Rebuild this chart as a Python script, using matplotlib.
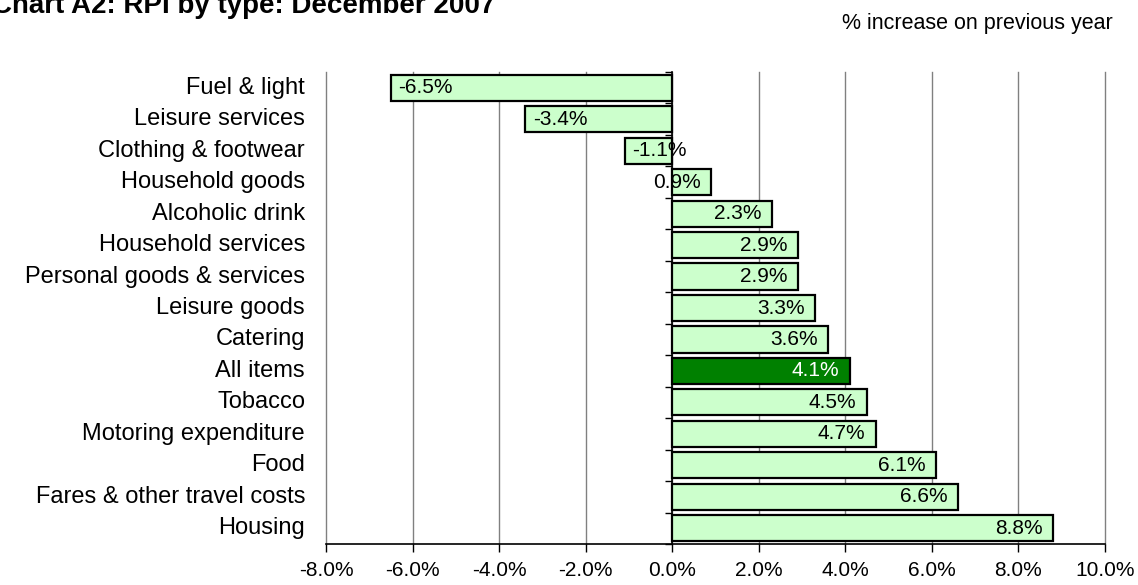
import matplotlib
matplotlib.use("Agg")
import matplotlib.pyplot as plt
import matplotlib.transforms as mtransforms
import numpy as np

plt.rcParams['font.family'] = ['Liberation Sans', 'DejaVu Sans']

categories = [
    "Fuel & light", "Leisure services", "Clothing & footwear", "Household goods",
    "Alcoholic drink", "Household services", "Personal goods & services",
    "Leisure goods", "Catering", "All items", "Tobacco", "Motoring expenditure",
    "Food", "Fares & other travel costs", "Housing",
]
values = [-6.5, -3.4, -1.1, 0.9, 2.3, 2.9, 2.9, 3.3, 3.6, 4.1, 4.5, 4.7, 6.1, 6.6, 8.8]
highlight = "All items"
x_ticks = [-8.0, -6.0, -4.0, -2.0, 0.0, 2.0, 4.0, 6.0, 8.0, 10.0]

light_green = "#CCFFCC"
dark_green = "#008000"

fig = plt.figure(figsize=(11.38, 5.85), dpi=100)
ax = fig.add_axes([326 / 1138, 1 - 544 / 585, (1105 - 326) / 1138, (544 - 72) / 585])

n = len(categories)
ypos = np.arange(n)
colors = [dark_green if c == highlight else light_green for c in categories]
ax.barh(ypos, values, height=0.83, color=colors, edgecolor="black", linewidth=1.6, zorder=3)

ax.set_xlim(x_ticks[0], x_ticks[-1])
ax.set_ylim(n - 0.5, -0.5)

# vertical gridlines at every major tick, including both plot edges
ax.set_xticks(x_ticks)
ax.set_xticklabels([f"{t:.1f}%" for t in x_ticks], fontsize=15)
for t in x_ticks:
    ax.axvline(t, color="#808080", linewidth=1.0, zorder=0, clip_on=False)
ax.tick_params(axis="x", direction="out", length=6, width=1, pad=6, colors="black")

# category axis sits on zero, ticks at the category boundaries
ax.spines['left'].set_position(('data', 0))
ax.spines['left'].set_zorder(4)
ax.spines['left'].set_linewidth(1.2)
ax.set_yticks(np.arange(n + 1) - 0.5)
ax.set_yticklabels([])
ax.tick_params(axis="y", direction="out", length=5, width=1)
ax.spines['top'].set_visible(False)
ax.spines['right'].set_visible(False)
ax.spines['bottom'].set_linewidth(1.2)
ax.spines['bottom'].set_zorder(4)

lab_trans = mtransforms.blended_transform_factory(ax.transAxes, ax.transData)
for y, c in zip(ypos, categories):
    ax.text(-21 / 779, y, c, transform=lab_trans, ha="right", va="center", fontsize=17)

# value labels inside the bar ends
for y, v, c in zip(ypos, values, categories):
    tc = "white" if c == highlight else "black"
    if v >= 0:
        ax.annotate(f"{v:.1f}%", (v, y), xytext=(-7.5, 0), textcoords="offset points",
                    ha="right", va="center", fontsize=15, color=tc, zorder=5)
    else:
        ax.annotate(f"{v:.1f}%", (v, y), xytext=(5.5, 0), textcoords="offset points",
                    ha="left", va="center", fontsize=15, color=tc, zorder=5)

fig.text(-8 / 1138, 1 - 13 / 585, "Chart A2: RPI by type: December 2007",
         fontsize=20, fontweight="bold", ha="left", va="baseline")
fig.text(1113 / 1138, 1 - 24 / 585, "% increase on previous year",
         fontsize=15.5, ha="right", va="center")

fig.savefig("out.png", dpi=100)
